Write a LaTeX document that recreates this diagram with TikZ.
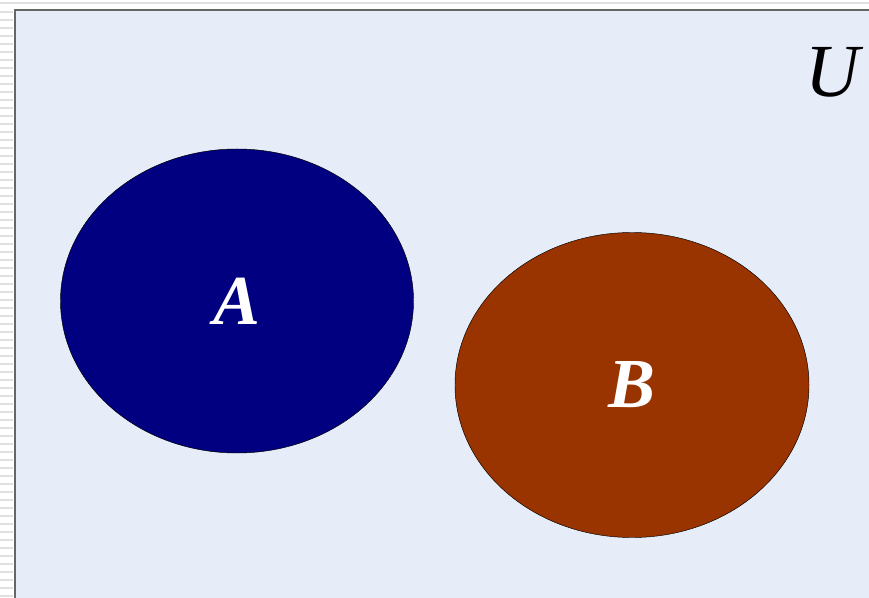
\documentclass[tikz,border=0pt]{standalone}
\usepackage{fontspec}
\setmainfont{Liberation Serif}
\usetikzlibrary{shapes.geometric}
\definecolor{univ}{HTML}{E6EDF8}
\definecolor{setA}{HTML}{000080}
\definecolor{setB}{HTML}{993300}
\begin{document}
\begin{tikzpicture}[x=0.03cm,y=-0.03cm]
\useasboundingbox (0,0) rectangle (869,598);
\foreach \y in {12,20,...,596} \draw[black!12,line width=1.2pt] (0,\y) -- (13,\y);
\draw[black!12,line width=1.5pt] (0,3) -- (869,3);
\node[draw=black!60,line width=1.6pt,fill=univ,anchor=north west,minimum width=26.2cm,minimum height=17.8cm,inner sep=0] (u) at (14,9) {};
\node[draw,ellipse,fill=setA,minimum width=10.59cm,minimum height=9.12cm,inner sep=0,text=white,font=\fontsize{60}{60}\selectfont\bfseries\itshape] (a) at (237,301) {A\hspace{0.1cm}};
\node[draw,ellipse,fill=setB,minimum width=10.62cm,minimum height=9.15cm,inner sep=0,text=white,font=\fontsize{60}{60}\selectfont\bfseries\itshape] (b) at (632,385) {B\hspace{0.2cm}};
\node[font=\fontsize{64}{64}\selectfont\itshape] (ulab) at (833,72) {U};
\end{tikzpicture}
\end{document}
